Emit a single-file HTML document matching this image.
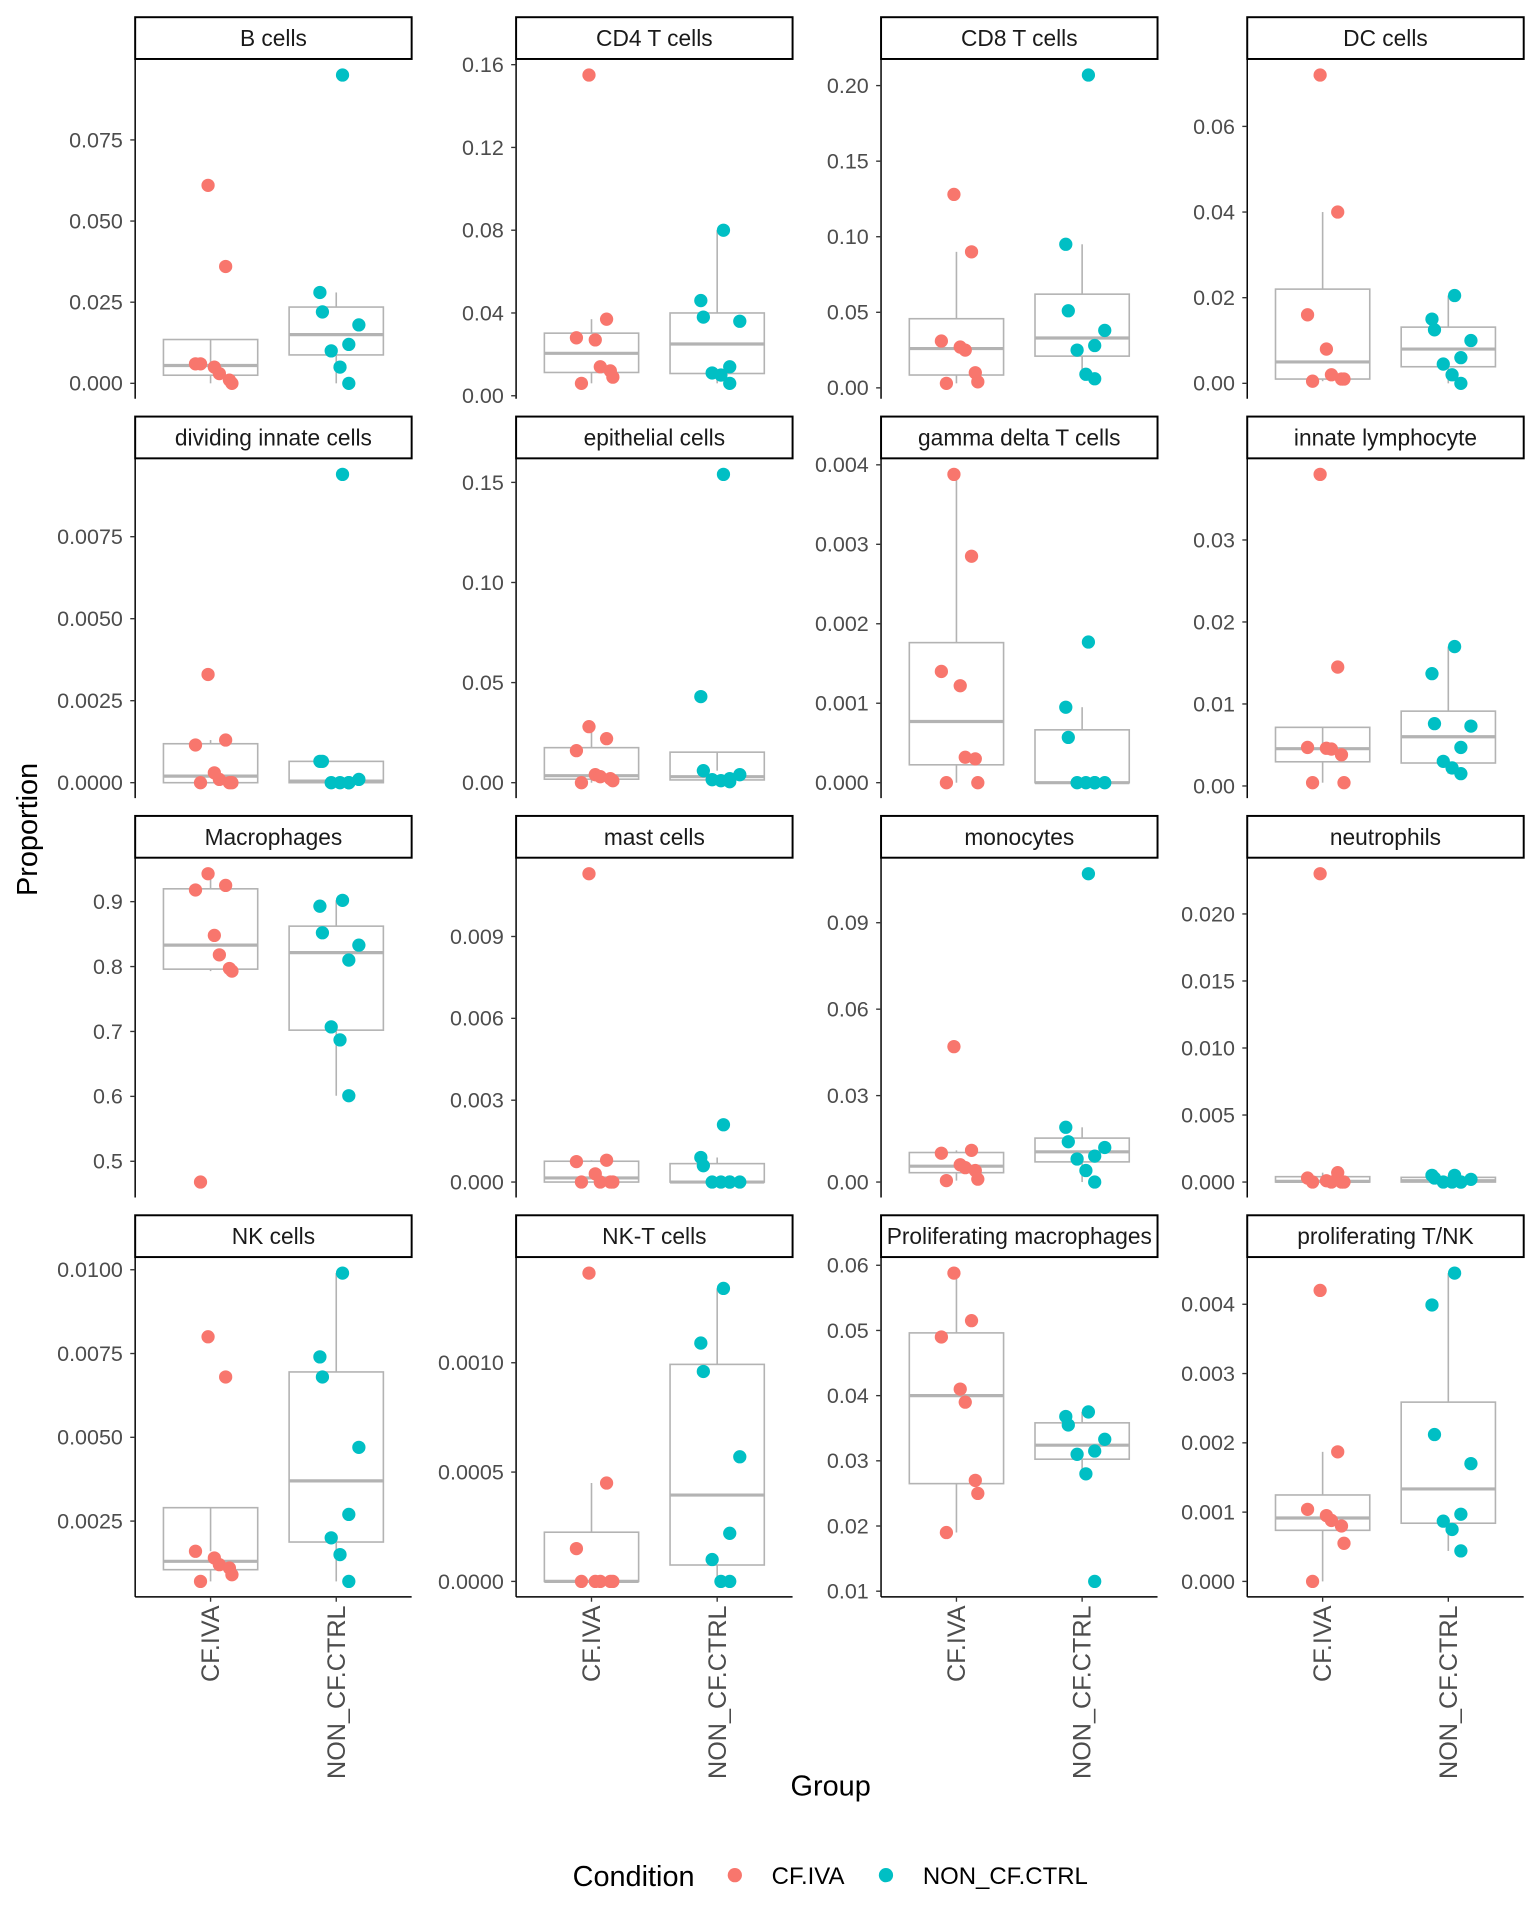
<!DOCTYPE html>
<html><head><meta charset="utf-8"><style>
html,body{margin:0;padding:0;background:#fff;}
svg{display:block;font-family:"Liberation Sans",Arial,sans-serif;}
</style></head><body>
<svg id="chart" xmlns="http://www.w3.org/2000/svg" width="1536" height="1920" viewBox="0 0 1250 1562.5">
<rect x="0" y="0" width="1250" height="1562.5" fill="#fff"/>
<g id="panels"></g>
<text x="0" y="0" transform="translate(30,675) rotate(-90)" text-anchor="middle" font-size="23.5" fill="#000">Proportion</text>
<text x="676" y="1461" text-anchor="middle" font-size="23.5" fill="#000">Group</text>
<g>
<text x="466" y="1535" font-size="23.5" fill="#000">Condition</text>
<circle cx="598" cy="1526" r="5.8" fill="#F8766D"/>
<text x="628" y="1533" font-size="19.5" fill="#000">CF.IVA</text>
<circle cx="721" cy="1526" r="5.8" fill="#00BFC4"/>
<text x="751" y="1533" font-size="19.5" fill="#000">NON_CF.CTRL</text>
</g>
</svg>
<script>
const panelNames = ["B cells","CD4 T cells","CD8 T cells","DC cells","dividing innate cells","epithelial cells","gamma delta T cells","innate lymphocyte","Macrophages","mast cells","monocytes","neutrophils","NK cells","NK-T cells","Proliferating macrophages","proliferating T/NK"];
const categories = ["CF.IVA","NON_CF.CTRL"];
const cfIvaValues = [
 [0.061,0.036,0.006,0.005,0.003,0.001,0.0,0.006],
 [0.155,0.037,0.028,0.027,0.014,0.012,0.009,0.006],
 [0.128,0.090,0.031,0.027,0.025,0.010,0.004,0.003],
 [0.072,0.040,0.016,0.008,0.002,0.001,0.001,0.0005],
 [0.0033,0.0013,0.00115,0.0003,0.0001,0.0,0.0,0.0],
 [0.028,0.022,0.016,0.004,0.003,0.002,0.001,0.0],
 [0.00388,0.00285,0.0014,0.00122,0.00032,0.0003,0.0,0.0],
 [0.038,0.0145,0.0047,0.0046,0.0045,0.0038,0.0004,0.0004],
 [0.943,0.925,0.918,0.848,0.818,0.797,0.793,0.468],
 [0.0113,0.0008,0.00075,0.0003,0.0,0.0,0.0,0.0],
 [0.047,0.011,0.010,0.006,0.005,0.004,0.001,0.0005],
 [0.023,0.0007,0.0003,0.0001,0.0,0.0,0.0,0.0],
 [0.0080,0.0068,0.0016,0.0014,0.0012,0.0011,0.0009,0.0007],
 [0.00141,0.00045,0.00015,0.0,0.0,0.0,0.0,0.0],
 [0.0588,0.0515,0.049,0.041,0.039,0.027,0.025,0.019],
 [0.0042,0.00187,0.00104,0.00095,0.00088,0.0008,0.00055,0.0]
];
const nonCfValues = [
 [0.095,0.028,0.022,0.018,0.012,0.010,0.005,0.0],
 [0.080,0.046,0.038,0.036,0.014,0.011,0.010,0.006],
 [0.207,0.095,0.051,0.038,0.028,0.025,0.009,0.006],
 [0.0205,0.015,0.0125,0.010,0.006,0.0045,0.002,0.0],
 [0.0094,0.00065,0.00065,0.0001,0.0,0.0,0.0,0.0],
 [0.154,0.043,0.006,0.004,0.002,0.0015,0.001,0.0005],
 [0.00177,0.00095,0.00057,0.0,0.0,0.0,0.0,0.0],
 [0.017,0.0137,0.0076,0.0073,0.0047,0.003,0.0022,0.0015],
 [0.902,0.893,0.852,0.833,0.81,0.707,0.687,0.601],
 [0.0021,0.0009,0.0006,0.0,0.0,0.0,0.0,0.0],
 [0.107,0.019,0.014,0.012,0.009,0.008,0.004,0.0],
 [0.0005,0.0005,0.0003,0.0002,0.0,0.0,0.0,0.0],
 [0.0099,0.0074,0.0068,0.0047,0.0027,0.0020,0.0015,0.0007],
 [0.00134,0.00109,0.00096,0.00057,0.00022,0.0001,0.0,0.0],
 [0.0375,0.0368,0.0355,0.0333,0.0315,0.031,0.028,0.0115],
 [0.00445,0.00399,0.00212,0.0017,0.00097,0.00087,0.00075,0.00044]
];
const cfIvaJitter = [-0.02,0.12,-0.12,0.03,0.07,0.15,0.17,-0.08];
const nonCfJitter = [0.05,-0.13,-0.11,0.18,0.1,-0.04,0.03,0.1];
const tickLabels = [
 ["0.000","0.025","0.050","0.075"],
 ["0.00","0.04","0.08","0.12","0.16"],
 ["0.00","0.05","0.10","0.15","0.20"],
 ["0.00","0.02","0.04","0.06"],
 ["0.0000","0.0025","0.0050","0.0075"],
 ["0.00","0.05","0.10","0.15"],
 ["0.000","0.001","0.002","0.003","0.004"],
 ["0.00","0.01","0.02","0.03"],
 ["0.5","0.6","0.7","0.8","0.9"],
 ["0.000","0.003","0.006","0.009"],
 ["0.00","0.03","0.06","0.09"],
 ["0.000","0.005","0.010","0.015","0.020"],
 ["0.0025","0.0050","0.0075","0.0100"],
 ["0.0000","0.0005","0.0010"],
 ["0.01","0.02","0.03","0.04","0.05","0.06"],
 ["0.000","0.001","0.002","0.003","0.004"]
];

const NS = "http://www.w3.org/2000/svg";
const colX = [110, 420, 717, 1015];
const panelW = 225, panelH = 276;
const colors = ["#F8766D", "#00BFC4"];
function mk(tag, attrs, parent) {
  const e = document.createElementNS(NS, tag);
  for (const k in attrs) e.setAttribute(k, attrs[k]);
  parent.appendChild(e);
  return e;
}
function quantile(sorted, p) {
  const h = (sorted.length - 1) * p, lo = Math.floor(h), hi = Math.ceil(h);
  return sorted[lo] + (h - lo) * (sorted[hi] - sorted[lo]);
}
function boxStats(vals) {
  const s = vals.slice().sort((a, b) => a - b);
  const q1 = quantile(s, 0.25), med = quantile(s, 0.5), q3 = quantile(s, 0.75);
  const iqr = q3 - q1;
  const lo = s.filter(v => v >= q1 - 1.5 * iqr)[0];
  const inHi = s.filter(v => v <= q3 + 1.5 * iqr);
  const hi = inHi[inHi.length - 1];
  return {q1, med, q3, lo, hi};
}
const root = document.getElementById("panels");
panelNames.forEach((name, i) => {
  const col = i % 4, row = Math.floor(i / 4);
  const x0 = colX[col], top = 48.5 + 325 * row, bottom = top + panelH;
  const slug = name.toLowerCase().replace(/[^a-z0-9]+/g, "-");
  const g = mk("g", {}, root);
  
  
  const groups = [cfIvaValues[i], nonCfValues[i]];
  const jit = [cfIvaJitter, nonCfJitter];
  const all = groups[0].concat(groups[1]);
  const dmin = Math.min(...all), dmax = Math.max(...all);
  const pad = (dmax - dmin) * 0.05;
  const y = v => bottom - (v - (dmin - pad)) / ((dmax + pad) - (dmin - pad)) * panelH;
  const xs = k => x0 + (k + 0.6) / 2.2 * panelW;
  const strip = mk("rect", {x: x0, y: top - 34.5, width: panelW, height: 34, fill: "#fff", stroke: "#000", "stroke-width": 1.6}, g);
  
  
  const st = mk("text", {x: x0 + panelW / 2, y: top - 11, "text-anchor": "middle", "font-size": 18.5, fill: "#1a1a1a"}, g);
  
  
  st.textContent = name;
  const ax = mk("line", {x1: x0, y1: top, x2: x0, y2: bottom, stroke: "#000", "stroke-width": 1.2}, g);
  
  
  tickLabels[i].forEach(t => {
    const ty = y(parseFloat(t));
    const tk = mk("line", {x1: x0 - 4, y1: ty, x2: x0, y2: ty, stroke: "#333", "stroke-width": 1.1}, g);
    
    
    const tl = mk("text", {x: x0 - 10, y: ty + 6, "text-anchor": "end", "font-size": 17.5, fill: "#4d4d4d"}, g);
    
    
    tl.textContent = t;
  });
  groups.forEach((vals, k) => {
    const b = boxStats(vals), cx = xs(k), hw = 0.75 / 2.2 * panelW / 2;
    const bg = mk("g", {stroke: "#b3b3b3", fill: "none"}, g);
    
    
    mk("line", {x1: cx, y1: y(b.q3), x2: cx, y2: y(b.hi), "stroke-width": 1.3}, bg);
    mk("line", {x1: cx, y1: y(b.q1), x2: cx, y2: y(b.lo), "stroke-width": 1.3}, bg);
    mk("rect", {x: cx - hw, y: y(b.q3), width: hw * 2, height: Math.max(0.01, y(b.q1) - y(b.q3)), "stroke-width": 1.3}, bg);
    mk("line", {x1: cx - hw, y1: y(b.med), x2: cx + hw, y2: y(b.med), "stroke-width": 2.6}, bg);
  });
  groups.forEach((vals, k) => {
    vals.forEach((v, j) => {
      const c = mk("circle", {cx: xs(k) + jit[k][j] * panelW / 2.2, cy: y(v), r: 5.4, fill: colors[k]}, g);
      
      
    });
  });
  if (row === 3) {
    const xa = mk("line", {x1: x0, y1: bottom, x2: x0 + panelW, y2: bottom, stroke: "#000", "stroke-width": 1.2}, g);
    
    
    categories.forEach((cat, k) => {
      const cx = xs(k);
      const tk = mk("line", {x1: cx, y1: bottom, x2: cx, y2: bottom + 4, stroke: "#333", "stroke-width": 1.1}, g);
      
      
      const tl = mk("text", {x: 0, y: 0, transform: "translate(" + (cx + 7) + "," + (bottom + 7) + ") rotate(-90)", "text-anchor": "end", "font-size": 20.5, fill: "#4d4d4d"}, g);
      
      
      tl.textContent = cat;
    });
  }
});
</script>
</body></html>
